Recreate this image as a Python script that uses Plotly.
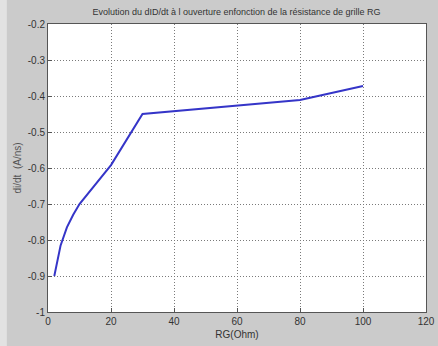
import plotly.graph_objects as go

# Gate resistance sweep and measured di/dt at turn-off
rg_ohm = [2, 4, 6, 8, 10, 20, 30, 50, 80, 100]
didt = [-0.90, -0.815, -0.765, -0.73, -0.70, -0.592, -0.45, -0.434, -0.411, -0.372]

x_ticks = [0, 20, 40, 60, 80, 100, 120]
y_ticks = [-1, -0.9, -0.8, -0.7, -0.6, -0.5, -0.4, -0.3, -0.2]
y_tick_text = ["-1", "-0.9", "-0.8", "-0.7", "-0.6", "-0.5", "-0.4", "-0.3", "-0.2"]

fig = go.Figure()
fig.add_trace(go.Scatter(
    x=rg_ohm, y=didt, mode="lines",
    line=dict(color="#3535c8", width=2),
    showlegend=False,
))

axis_common = dict(
    showline=True, linecolor="#555555", linewidth=1, mirror=True,
    ticks="inside", ticklen=4, tickcolor="#555555",
    showgrid=True, gridcolor="#7a7a7a", griddash="1px,2px", gridwidth=1,
    zeroline=False, automargin=False,
    tickfont=dict(family="Arial, Liberation Sans, sans-serif", size=10, color="#333333"),
)

fig.update_xaxes(
    range=[0, 120], tickvals=x_ticks,
    title=dict(text="RG(Ohm)", standoff=4,
               font=dict(family="Arial, Liberation Sans, sans-serif", size=10, color="#333333")),
    **axis_common,
)
fig.update_yaxes(
    range=[-1, -0.2], tickvals=y_ticks, ticktext=y_tick_text,
    title=dict(text="di/dt  (A/ns)", standoff=4,
               font=dict(family="Arial, Liberation Sans, sans-serif", size=10, color="#555555")),
    **axis_common,
)

fig.update_layout(
    width=438, height=346,
    margin=dict(l=48, r=12, t=24, b=34),
    paper_bgcolor="#cbcbcb",
    plot_bgcolor="#ffffff",
    title=dict(
        text="Evolution du dID/dt à l ouverture enfonction de la résistance de grille RG",
        x=0.54, xanchor="center", y=0.965, yanchor="middle",
        font=dict(family="Arial, Liberation Sans, sans-serif", size=9, color="#333333"),
    ),
    shapes=[dict(type="rect", xref="paper", yref="paper",
                 x0=-0.128, x1=-0.109, y0=-0.12, y1=1.09,
                 fillcolor="#e2e2e2", line=dict(width=0), layer="below")],
)

fig.write_html("out.html")
